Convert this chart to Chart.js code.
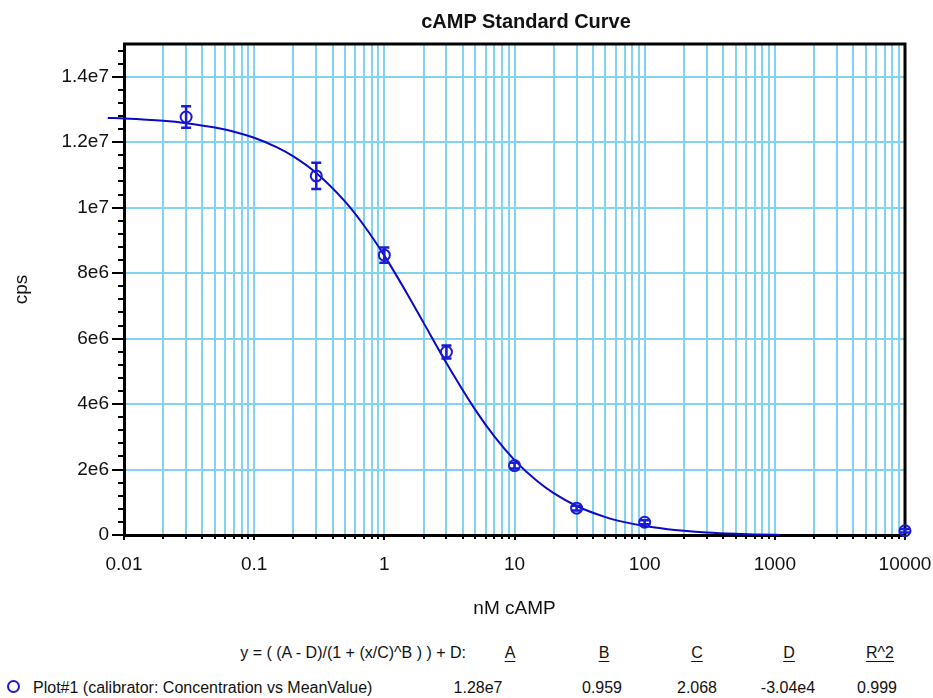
<!DOCTYPE html>
<html>
<head>
<meta charset="utf-8">
<script src="https://cdn.jsdelivr.net/npm/chart.js@4.4.1/dist/chart.umd.min.js"></script>
<style>
  html, body { margin: 0; padding: 0; background: #fff; }
  #wrap {
    position: relative; width: 933px; height: 698px; overflow: hidden;
    font-family: "Liberation Sans", Arial, sans-serif;
    color: #111;
  }
  #chartBox { position: absolute; left: 0; top: 0; width: 933px; height: 620px; }
  .title {
    position: absolute; top: 11px; left: 326px; width: 400px;
    text-align: center; font-weight: bold; font-size: 20px; line-height: 1;
  }
  .lg { position: absolute; font-size: 16px; line-height: 1; white-space: nowrap; }
  .c { transform: translateX(-50%); }
  .u { text-decoration: underline; text-underline-offset: 3px; }
  .row1 { top: 645px; }
  .row2 { top: 680px; }
  .mark {
    position: absolute; left: 7px; top: 680px; width: 9px; height: 9px;
    border: 2px solid #1a1ad8; border-radius: 50%;
  }
</style>
</head>
<body>
<div id="wrap">
  <div id="chartBox"><canvas id="curveChart" width="933" height="620"></canvas></div>
  <div class="title">cAMP Standard Curve</div>

  <div class="lg row1" style="right:467px;">y = ( (A - D)/(1 + (x/C)^B ) ) + D:</div>
  <div class="lg row1 c u" style="left:510px;">A</div>
  <div class="lg row1 c u" style="left:604px;">B</div>
  <div class="lg row1 c u" style="left:697px;">C</div>
  <div class="lg row1 c u" style="left:789px;">D</div>
  <div class="lg row1 c u" style="left:880px;">R^2</div>

  <div class="mark"></div>
  <div class="lg row2" style="left:33px;">Plot#1 (calibrator: Concentration vs MeanValue)</div>
  <div class="lg row2 c" style="left:478px;">1.28e7</div>
  <div class="lg row2 c" style="left:602px;">0.959</div>
  <div class="lg row2 c" style="left:697px;">2.068</div>
  <div class="lg row2 c" style="left:788px;">-3.04e4</div>
  <div class="lg row2 c" style="left:877px;">0.999</div>
</div>

<script>
// calibrator points (nM cAMP vs mean cps) with error bars
const concentrations = [0.03, 0.3, 1, 3, 10, 30, 100, 10000];
const meanCps = [12.77e6, 10.97e6, 8.55e6, 5.59e6, 2.12e6, 0.82e6, 0.39e6, 0.13e6];
const cpsErr = [0.33e6, 0.40e6, 0.23e6, 0.20e6, 0.09e6, 0.07e6, 0.06e6, 0.05e6];

// fitted 4PL curve
const fitX = [0.0075, 0.01, 0.02, 0.03, 0.05, 0.07, 0.1, 0.15, 0.2, 0.3, 0.5, 0.7, 1, 1.5, 2, 3, 5, 7,
              10, 15, 20, 30, 50, 70, 100, 150, 200, 300, 500, 700, 1000, 1100];
const fitY = [12.742e6, 12.723e6, 12.652e6, 12.582e6, 12.448e6, 12.320e6, 12.134e6, 11.841e6, 11.566e6,
              11.059e6, 10.183e6, 9.447e6, 8.534e6, 7.365e6, 6.488e6, 5.252e6, 3.821e6, 3.010e6,
              2.289e6, 1.639e6, 1.277e6, 0.886e6, 0.547e6, 0.393e6, 0.273e6, 0.177e6, 0.128e6,
              0.077e6, 0.036e6, 0.018e6, 0.004e6, 0.001e6];

// axes
const xTickValues = [0.01, 0.1, 1, 10, 100, 1000, 10000];
const xTickLabels = ['0.01', '0.1', '1', '10', '100', '1000', '10000'];
const xMinorSteps = [2, 3, 4, 5, 6, 7, 8, 9];
const yTickValues = [0, 2e6, 4e6, 6e6, 8e6, 10e6, 12e6, 14e6];
const yTickLabels = ['0', '2e6', '4e6', '6e6', '8e6', '1e7', '1.2e7', '1.4e7'];
const yMax = 15e6;
const yMinorStep = 4e5;

const gridBlue = '#82d2f2';
const curveBlue = '#0a0ac4';
const markBlue = '#1a1ad8';

// all vertical grid positions: decades plus 2..9 inside each decade
const xGrid = [];
xTickValues.forEach((d, i) => {
  xGrid.push(d);
  if (i < xTickValues.length - 1) xMinorSteps.forEach(m => xGrid.push(m * d));
});

Chart.defaults.font.family = '"Liberation Sans", Arial, sans-serif';
Chart.defaults.color = '#111';

// black frame on top/right plus the short tick marks outside the axes
const frameTicks = {
  id: 'frameTicks',
  beforeDatasetsDraw(chart) {
    const { ctx, chartArea: a } = chart;
    const xs = chart.scales.x, ys = chart.scales.y;
    ctx.save();
    ctx.strokeStyle = '#000';
    ctx.lineWidth = 3;
    ctx.beginPath();
    ctx.moveTo(a.left - 1, a.top);
    ctx.lineTo(a.right, a.top);
    ctx.lineTo(a.right, a.bottom + 1);
    ctx.stroke();

    ctx.lineWidth = 2;
    ctx.beginPath();
    for (let v = 0; v <= yMax + 1; v += yMinorStep) {
      const py = Math.round(ys.getPixelForValue(v));
      const major = yTickValues.some(t => Math.abs(t - v) < 1);
      ctx.moveTo(a.left - (major ? 12 : 6), py);
      ctx.lineTo(a.left, py);
    }
    xGrid.forEach(v => {
      const px = Math.round(xs.getPixelForValue(v));
      const major = xTickValues.includes(v);
      ctx.moveTo(px, a.bottom);
      ctx.lineTo(px, a.bottom + (major ? 5 : 4));
    });
    ctx.stroke();
    ctx.restore();
  }
};

// vertical error bars with caps
const errorBars = {
  id: 'errorBars',
  afterDatasetsDraw(chart) {
    const { ctx } = chart;
    const xs = chart.scales.x, ys = chart.scales.y;
    ctx.save();
    ctx.strokeStyle = markBlue;
    ctx.lineWidth = 2.5;
    ctx.beginPath();
    concentrations.forEach((c, i) => {
      const px = xs.getPixelForValue(c);
      const top = ys.getPixelForValue(meanCps[i] + cpsErr[i]);
      const bot = ys.getPixelForValue(meanCps[i] - cpsErr[i]);
      ctx.moveTo(px, top); ctx.lineTo(px, bot);
      ctx.moveTo(px - 5, top); ctx.lineTo(px + 5, top);
      ctx.moveTo(px - 5, bot); ctx.lineTo(px + 5, bot);
    });
    ctx.stroke();
    ctx.restore();
  }
};

new Chart(document.getElementById('curveChart').getContext('2d'), {
  type: 'line',
  data: {
    datasets: [
      {
        label: 'fit',
        data: fitX.map((x, i) => ({ x: x, y: fitY[i] })),
        borderColor: curveBlue,
        borderWidth: 2,
        pointRadius: 0,
        cubicInterpolationMode: 'monotone',
        clip: false,
        order: 2
      },
      {
        label: 'Plot#1',
        data: concentrations.map((x, i) => ({ x: x, y: meanCps[i] })),
        showLine: false,
        pointStyle: 'circle',
        pointRadius: 5.5,
        pointBorderWidth: 2,
        pointBorderColor: markBlue,
        pointBackgroundColor: 'rgba(0,0,0,0)',
        clip: false,
        order: 1
      }
    ]
  },
  options: {
    responsive: false,
    animation: false,
    devicePixelRatio: 1,
    layout: { padding: { top: 44, right: 28, bottom: 0, left: 0 } },
    plugins: {
      legend: { display: false },
      tooltip: { enabled: false },
      title: { display: false }
    },
    scales: {
      x: {
        type: 'logarithmic',
        min: 0.01,
        max: 10000,
        afterBuildTicks: (scale) => { scale.ticks = xGrid.map(v => ({ value: v })); },
        afterFit: (scale) => {
          scale.height = 85;
          scale.paddingLeft = 0;
          scale.paddingRight = 0;
        },
        grid: { color: gridBlue, lineWidth: 2, drawTicks: false },
        border: { display: true, color: '#000', width: 3 },
        ticks: {
          autoSkip: false,
          maxRotation: 0,
          padding: 18,
          font: { size: 19 },
          color: '#111',
          callback: (v) => {
            const i = xTickValues.indexOf(v);
            return i >= 0 ? xTickLabels[i] : '';
          }
        },
        title: {
          display: true,
          text: 'nM cAMP',
          font: { size: 19 },
          color: '#111',
          padding: { top: 0, bottom: 0 }
        }
      },
      y: {
        type: 'linear',
        min: 0,
        max: yMax,
        afterBuildTicks: (scale) => { scale.ticks = yTickValues.map(v => ({ value: v })); },
        afterFit: (scale) => { scale.width = 124; },
        grid: { color: gridBlue, lineWidth: 2, drawTicks: false },
        border: { display: true, color: '#000', width: 3 },
        ticks: {
          padding: 15,
          font: { size: 19 },
          color: '#111',
          callback: (v, i) => yTickLabels[i]
        },
        title: {
          display: true,
          text: 'cps',
          font: { size: 19 },
          color: '#111',
          padding: { top: 10, bottom: 0 }
        }
      }
    }
  },
  plugins: [frameTicks, errorBars]
});
</script>
</body>
</html>
